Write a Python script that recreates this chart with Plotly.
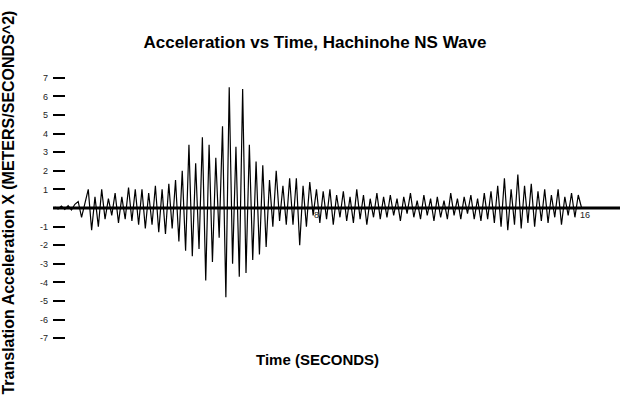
import numpy as np
import plotly.graph_objects as go

# Hachinohe NS record, values in m/s^2, sampled every 0.1 s from t = 0.2 s
T_START = 0.2
DT = 0.1
accel = [
    0.05, -0.05, 0.1, -0.08, 0.12, -0.1, 0.2, 0.35, -0.5, 0.3,
    1.0, -1.2, 0.6, -1.0, 1.0, -0.6, 0.5, -0.4, 0.8, -0.8,
    0.6, -0.6, 1.1, -0.7, 1.0, -0.9, 1.0, -1.1, 0.8, -0.9,
    1.2, -1.3, 1.0, -1.4, 1.3, -1.1, 1.5, -1.8, 2.0, -2.3,
    3.4, -2.6, 2.4, -2.2, 3.8, -3.9, 3.4, -2.9, 2.7, -1.6,
    4.4, -4.8, 6.5, -3.0, 3.3, -3.7, 6.4, -3.5, 3.4, -2.8,
    2.5, -2.5, 2.3, -2.1, 1.5, -1.0, 2.0, -0.7, 1.2, -0.9,
    1.6, -0.9, 1.6, -2.0, 1.2, -1.0, 1.4, -0.4, 1.0, -0.8,
    0.9, -0.6, 1.0, -0.9, 0.7, -0.5, 0.9, -0.7, 0.6, -0.8,
    1.0, -0.6, 0.7, -0.9, 0.5, -0.5, 0.8, -0.6, 0.6, -0.5,
    0.7, -0.4, 0.5, -0.7, 0.6, -0.3, 0.8, -0.5, 0.4, -0.6,
    0.7, -0.4, 0.5, -0.7, 0.6, -0.5, 0.4, -0.6, 0.8, -0.4,
    0.5, -0.6, 0.6, -0.3, 0.7, -0.6, 0.5, -0.7, 0.8, -0.6,
    0.9, -0.8, 1.2, -1.0, 1.6, -1.2, 1.0, -0.9, 1.8, -1.1,
    1.2, -0.8, 1.3, -1.0, 0.9, -0.7, 1.0, -0.8, 0.7, -0.5,
    1.0, -0.9, 0.6, -0.4, 0.8, -0.5, 0.7, 0.0,
]
time = T_START + DT * np.arange(len(accel))

y_ticks = [-7, -6, -5, -4, -3, -2, -1, 1, 2, 3, 4, 5, 6, 7]
x_ticks = [8, 16]

FONT = "Arial, Liberation Sans, sans-serif"

fig = go.Figure()
fig.add_trace(go.Scatter(
    x=time, y=accel, mode="lines",
    line=dict(color="#000000", width=1.2),
    hoverinfo="skip", showlegend=False,
))

# heavy baseline at zero acceleration
fig.add_shape(type="line", xref="paper", yref="y", x0=0, x1=1, y0=0, y1=0,
              line=dict(color="#000000", width=3), layer="above")

fig.update_layout(
    width=620, height=410,
    margin=dict(l=53, r=0, t=63, b=57),
    paper_bgcolor="white", plot_bgcolor="white",
    title=dict(text="<b>Acceleration vs Time, Hachinohe NS Wave</b>",
               xref="container", yref="container", x=0.508, y=0.8976,
               xanchor="center", yanchor="middle",
               font=dict(family=FONT, size=17, color="#000000")),
    xaxis=dict(range=[0.149, 17.044], anchor="free", position=0.5,
               tickvals=x_ticks, ticktext=[str(v) for v in x_ticks],
               ticks="", showgrid=False, zeroline=False, showline=False,
               layer="below traces",
               tickfont=dict(family=FONT, size=9, color="#222222")),
    yaxis=dict(range=[-7.8, 7.8], tickvals=y_ticks,
               ticktext=[str(v) for v in y_ticks],
               ticks="inside", ticklen=12, tickwidth=2, tickcolor="#000000",
               ticklabelstandoff=4,
               showgrid=False, zeroline=False, showline=False,
               tickfont=dict(family=FONT, size=9, color="#222222")),
    annotations=[
        dict(text="<b>Translation Acceleration X (METERS/SECONDS^2)</b>",
             xref="paper", yref="paper", x=-0.0802, y=0.5172,
             xanchor="center", yanchor="middle", textangle=-90,
             showarrow=False, font=dict(family=FONT, size=16, color="#000000")),
        dict(text="<b>Time (SECONDS)</b>",
             xref="paper", yref="paper", x=0.467, y=-0.024,
             xanchor="center", yanchor="middle",
             showarrow=False, font=dict(family=FONT, size=15, color="#000000")),
    ],
)

fig.write_html("out.html")
